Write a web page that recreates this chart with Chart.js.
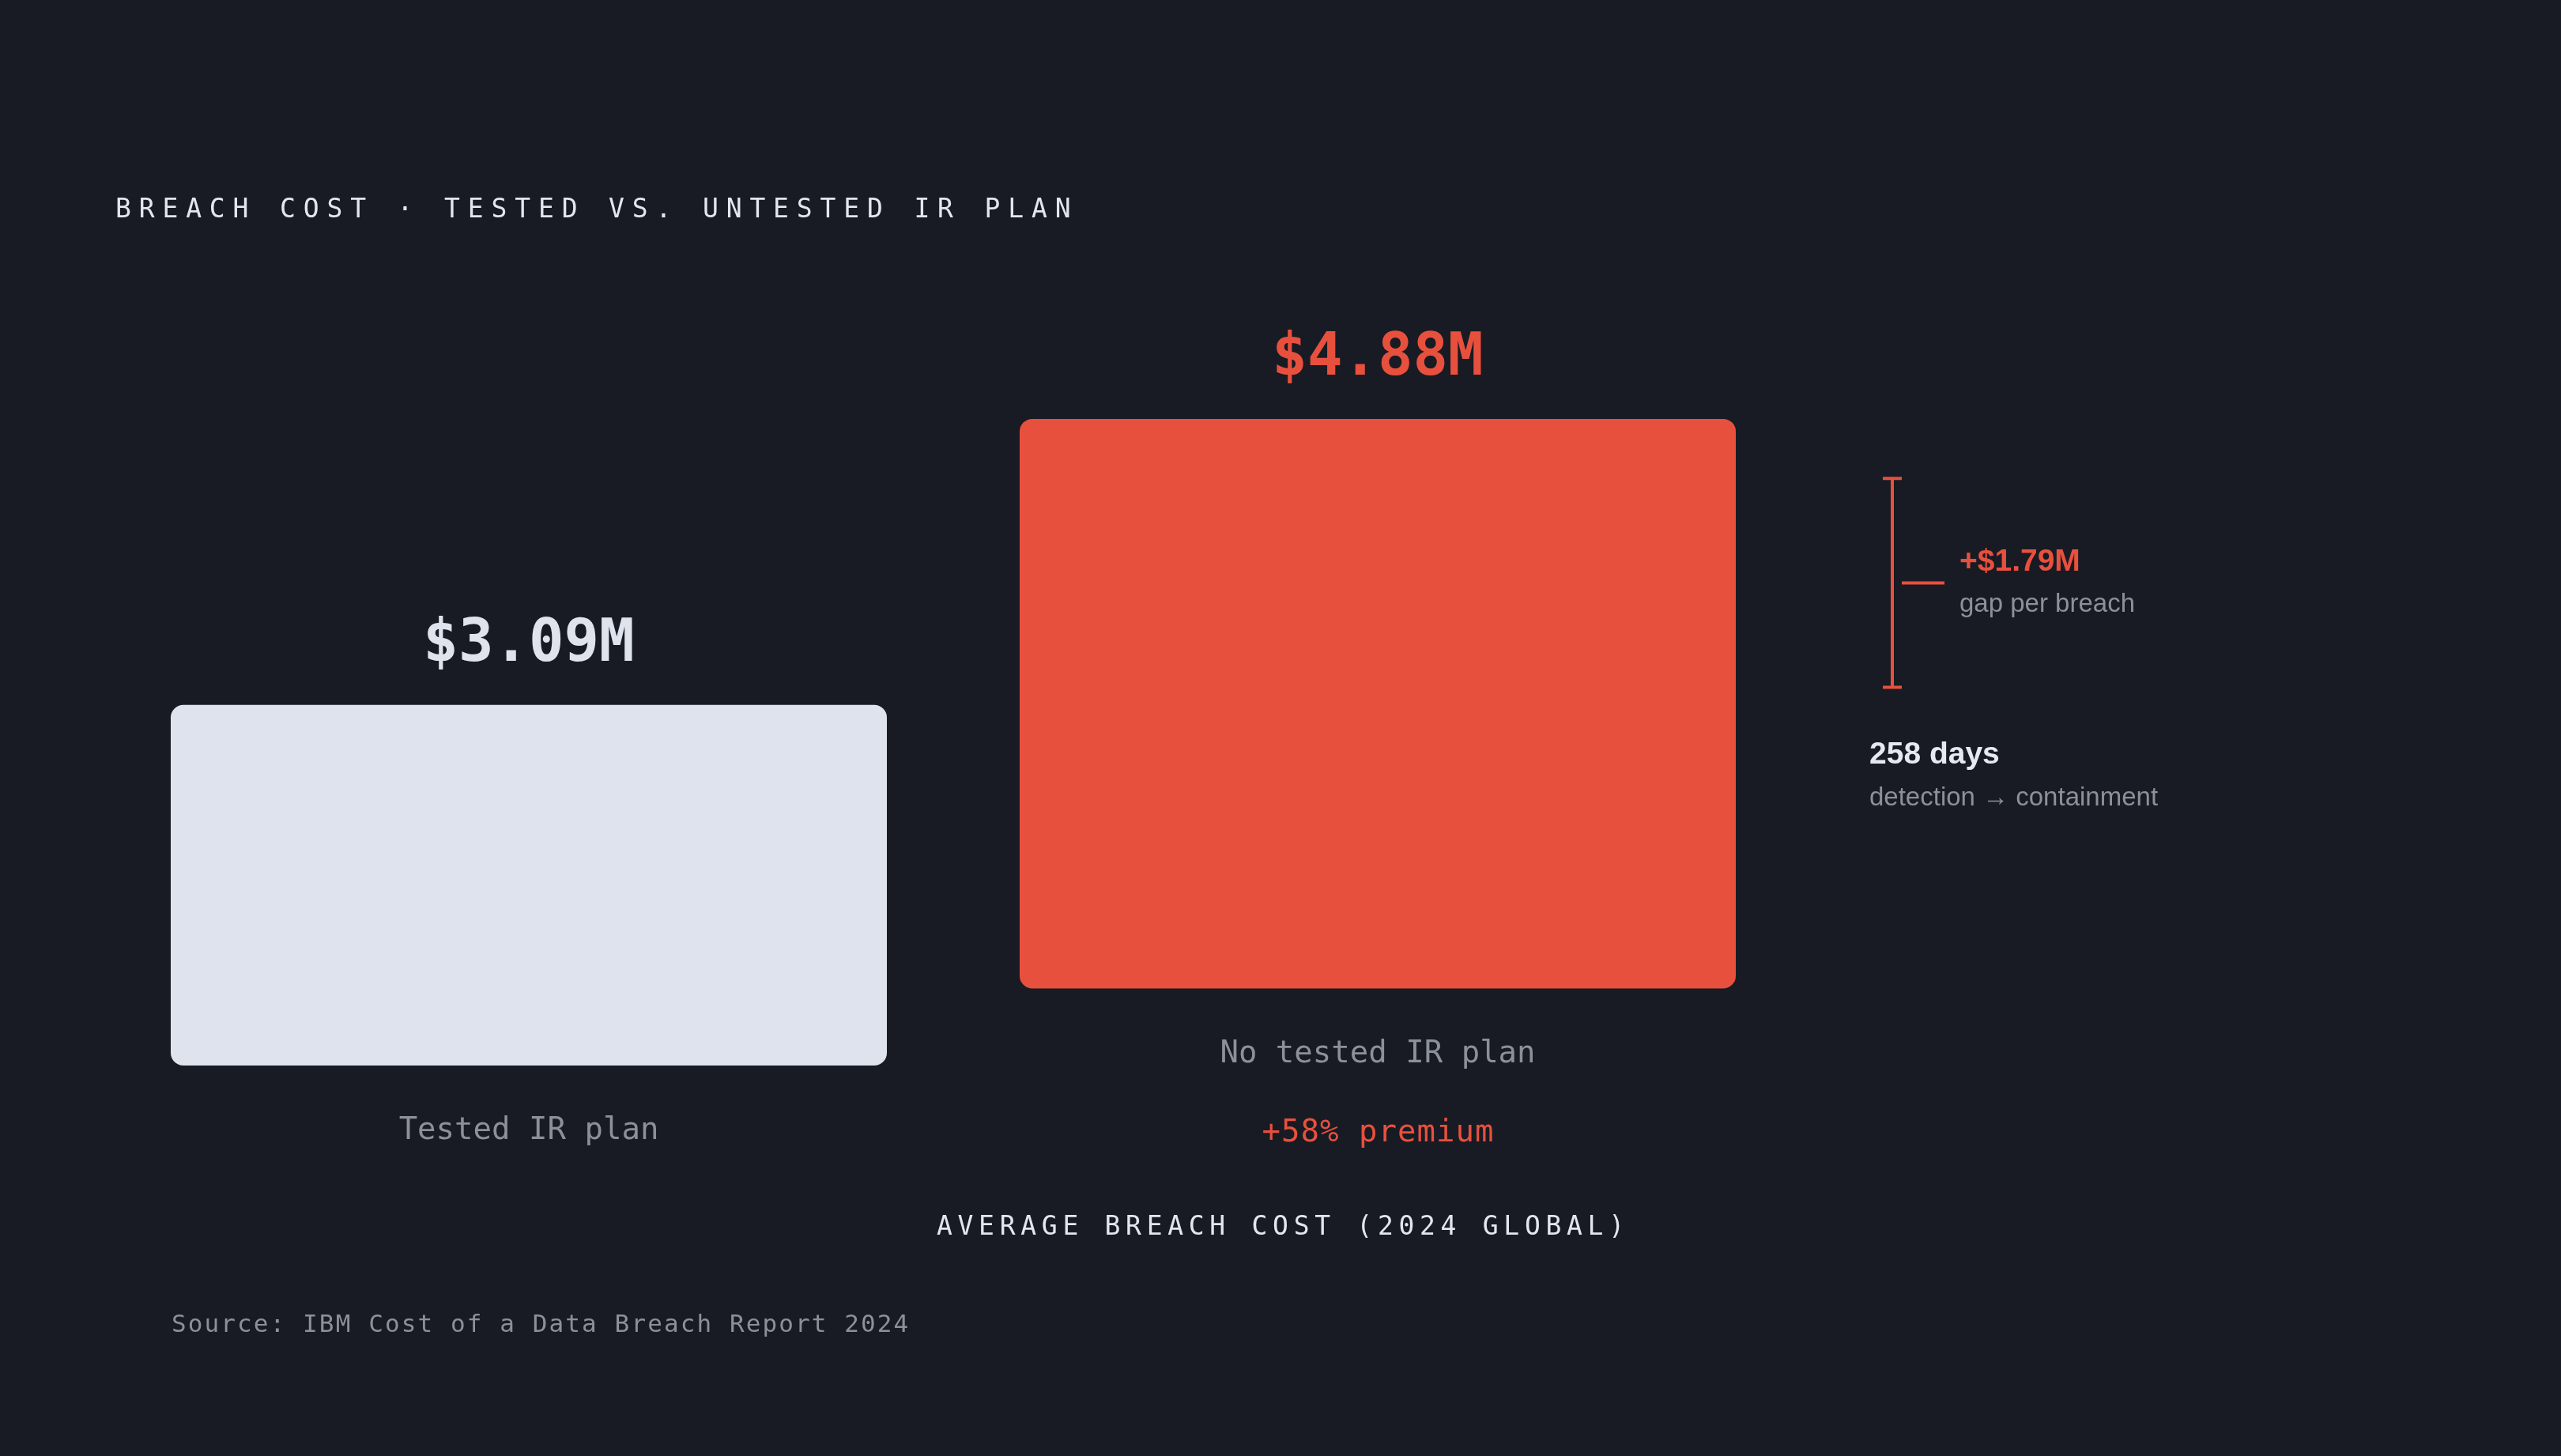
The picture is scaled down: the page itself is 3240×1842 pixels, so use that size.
<!DOCTYPE html>
<html lang="en">
<head>
  <meta charset="UTF-8">
  <title>Breach cost · tested vs. untested IR plan</title>
  <script src="https://cdn.jsdelivr.net/npm/chart.js"></script>
  <style>
    html, body {
      margin: 0;
      padding: 0;
      background: #181b23;
      overflow: hidden;
    }
    canvas {
      display: block;
    }
  </style>
</head>
<body>
  <canvas id="cost-chart" width="3240" height="1842"></canvas>

  <script>
    // Data (USD millions, IBM Cost of a Data Breach 2024)
    const categories = ['Tested IR plan', 'No tested IR plan'];
    const costs = [3.09, 4.88];
    const valueLabels = ['$3.09M', '$4.88M'];
    const daysToContain = 258;

    // bars float at slightly different heights in the layout
    const lift = [0, 0.66];
    const gapLift = 3.24; // where the gap bracket starts on the y scale

    const BG = '#181b23';
    const LIGHT = '#dfe3ed';
    const RED = '#e8503e';
    const GREY = '#8b909b';
    const MONO = '"DejaVu Sans Mono", monospace';
    const SANS = '"Liberation Sans", Arial, sans-serif';

    const gap = costs[1] - costs[0];
    const premium = Math.round((costs[1] / costs[0] - 1) * 100);

    function text(ctx, str, x, y, font, color, align, spacing) {
      ctx.save();
      ctx.font = font;
      ctx.fillStyle = color;
      ctx.textAlign = align || 'left';
      ctx.textBaseline = 'alphabetic';
      ctx.letterSpacing = (spacing || 0) + 'px';
      let dx = 0;
      // trailing letter spacing would push centred text left
      if (align === 'center' && spacing) dx = spacing / 2;
      ctx.fillText(str, x + dx, y);
      ctx.restore();
    }

    const overlay = {
      id: 'overlay',
      afterDraw(chart) {
        const ctx = chart.ctx;
        const bars = chart.getDatasetMeta(0).data;
        const y = chart.scales.y;

        // title
        text(ctx, 'BREACH COST · TESTED VS. UNTESTED IR PLAN', 146, 275,
          '33px ' + MONO, '#e3e6ee', 'left', 9.85);

        // value above and label below each bar
        bars.forEach((bar, i) => {
          const col = i === 1 ? RED : LIGHT;
          text(ctx, valueLabels[i], bar.x, bar.y - 56, 'bold 74px ' + MONO, col, 'center');
          text(ctx, categories[i], bar.x, bar.base + 93, '39px ' + MONO, GREY, 'center');
        });
        const red = bars[1];
        text(ctx, '+' + premium + '% premium', red.x, red.base + 193, '39px ' + MONO, RED, 'center', 1);

        // axis caption + source
        text(ctx, 'AVERAGE BREACH COST (2024 GLOBAL)', 1620, 1562, '33px ' + MONO, '#e3e6ee', 'center', 6.7);
        text(ctx, 'Source: IBM Cost of a Data Breach Report 2024', 217, 1685, '31px ' + MONO, GREY, 'left', 2.1);

        // gap bracket drawn on the value scale
        const top = y.getPixelForValue(gapLift + gap);
        const bot = y.getPixelForValue(gapLift);
        const mid = (top + bot) / 2;
        ctx.save();
        ctx.strokeStyle = RED;
        ctx.lineWidth = 4;
        ctx.beginPath();
        ctx.moveTo(2394, top); ctx.lineTo(2394, bot);
        ctx.moveTo(2382, top); ctx.lineTo(2406, top);
        ctx.moveTo(2382, bot); ctx.lineTo(2406, bot);
        ctx.moveTo(2406, mid); ctx.lineTo(2460, mid);
        ctx.stroke();
        ctx.restore();

        text(ctx, '+$' + gap.toFixed(2) + 'M', 2479, mid - 15, 'bold 39px ' + SANS, RED);
        text(ctx, 'gap per breach', 2479, mid + 37, '33px ' + SANS, GREY);

        text(ctx, daysToContain + ' days', 2365, bot + 96, 'bold 39px ' + SANS, '#e6e9f0');
        text(ctx, 'detection → containment', 2365, bot + 149, '33px ' + SANS, GREY);
      }
    };

    new Chart(document.getElementById('cost-chart').getContext('2d'), {
      type: 'bar',
      data: {
        labels: categories,
        datasets: [{
          data: costs.map((v, i) => [lift[i], lift[i] + v]),
          backgroundColor: [LIGHT, RED],
          borderRadius: 16,
          borderSkipped: false,
          barPercentage: 1,
          categoryPercentage: 0.8436
        }]
      },
      options: {
        responsive: false,
        devicePixelRatio: 1,
        animation: false,
        layout: {
          padding: { left: 132, right: 960, top: 462, bottom: 494 }
        },
        plugins: {
          legend: { display: false },
          tooltip: { enabled: false }
        },
        scales: {
          x: { display: false },
          y: { display: false, min: 0, max: 6 }
        }
      },
      plugins: [overlay]
    });
  </script>
</body>
</html>
